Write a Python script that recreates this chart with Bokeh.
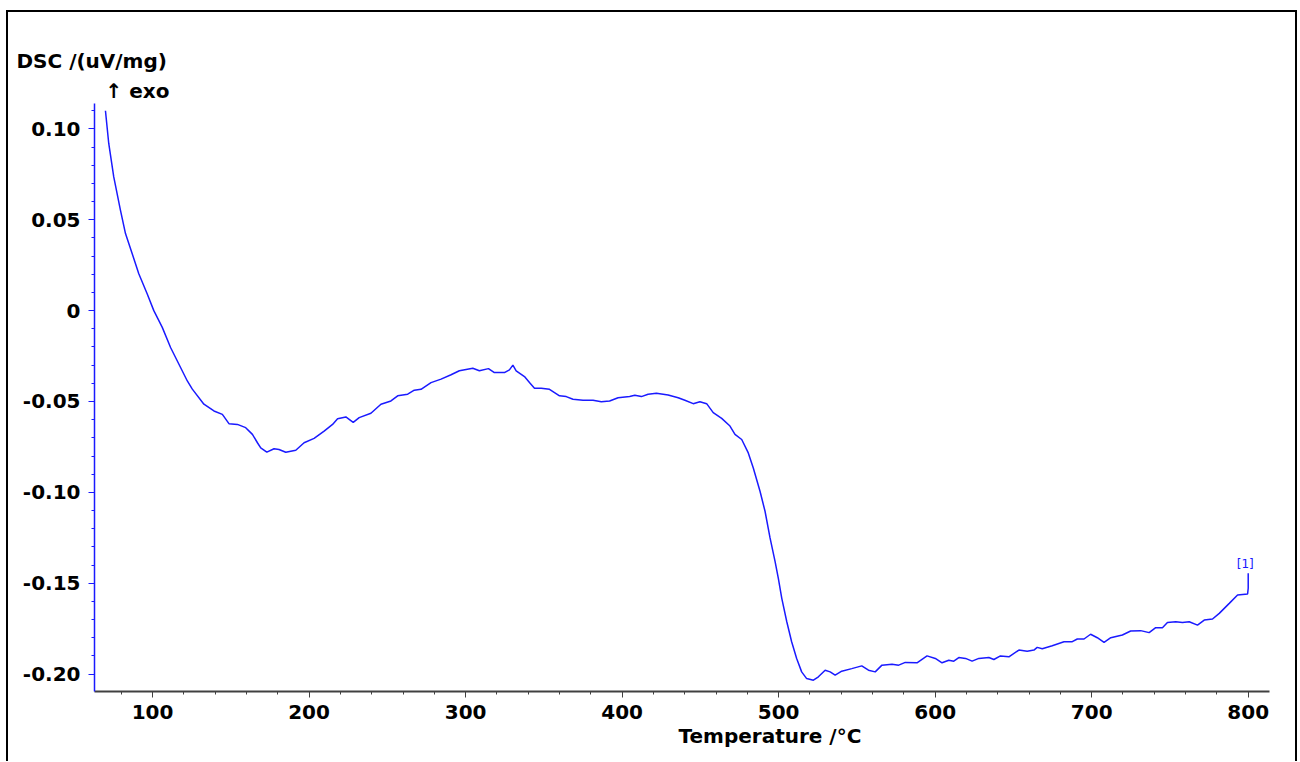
from bokeh.plotting import figure
from bokeh.models import Range1d, SingleIntervalTicker, CustomJSTickFormatter, Label, Title
from bokeh.embed import file_html
from bokeh.resources import INLINE

# DSC curve (temperature in °C, DSC in uV/mg)
temp = [69.9, 72.0, 75.2, 79.5, 82.7, 87.0, 91.2, 96.6, 100.8, 106.2, 111.5,
        122.2, 125.4, 132.8, 139.2, 144.6, 148.8, 154.2, 159.5, 163.8, 167.0,
        169.1, 173.0, 177.6, 180.8, 185.1, 191.5, 196.8, 203.2, 209.6, 215.0,
        218.2, 223.5, 225.6, 228.2, 232.0, 239.5, 245.9, 252.3, 256.6, 263.0,
        267.2, 271.5, 277.9, 284.3, 290.7, 296.0, 304.6, 308.8, 314.6, 318.4,
        324.8, 328.0, 330.2, 332.3, 337.6, 340.8, 344.0, 348.3, 353.6, 360.0,
        364.3, 368.6, 375.0, 381.4, 386.7, 392.0, 397.4, 404.8, 408.1, 412.3,
        416.6, 421.9, 429.4, 435.8, 440.1, 445.4, 449.7, 454.0, 458.2, 463.6,
        468.9, 472.1, 476.4, 480.6, 483.8, 488.1, 491.3, 494.5, 497.7, 499.8,
        502.0, 505.2, 508.3, 511.5, 514.7, 517.9, 522.2, 525.4, 529.7, 532.9,
        536.1, 540.3, 546.7, 553.1, 557.4, 561.7, 566.0, 572.4, 576.7, 580.9,
        588.4, 594.8, 600.1, 604.4, 608.7, 611.9, 615.1, 619.4, 623.6, 627.9,
        634.3, 637.5, 641.7, 647.1, 653.5, 658.8, 663.1, 665.2, 668.4, 674.8,
        682.3, 687.6, 690.8, 695.1, 699.3, 703.6, 707.9, 712.2, 719.6, 724.9,
        731.3, 736.7, 740.9, 745.2, 748.4, 753.7, 758.0, 762.3, 767.6, 771.9,
        777.2, 781.5, 787.9, 793.2, 799.6, 800.0, 800.0]
dsc = [0.1100, 0.0920, 0.0736, 0.0552, 0.0424, 0.0313, 0.0203, 0.0092, 0.0000, -0.0092, -0.0203,
       -0.0387, -0.0432, -0.0515, -0.0552, -0.0571, -0.0622, -0.0626, -0.0644, -0.0681, -0.0727,
       -0.0755, -0.0779, -0.0760, -0.0764, -0.0779, -0.0768, -0.0727, -0.0703, -0.0663, -0.0626,
       -0.0595, -0.0585, -0.0598, -0.0615, -0.0589, -0.0565, -0.0515, -0.0497, -0.0469, -0.0460,
       -0.0438, -0.0433, -0.0396, -0.0377, -0.0353, -0.0331, -0.0317, -0.0331, -0.0319, -0.0341,
       -0.0341, -0.0326, -0.0300, -0.0331, -0.0363, -0.0396, -0.0427, -0.0427, -0.0433, -0.0469,
       -0.0473, -0.0488, -0.0493, -0.0493, -0.0501, -0.0497, -0.0479, -0.0473, -0.0466, -0.0473,
       -0.0460, -0.0455, -0.0464, -0.0479, -0.0493, -0.0512, -0.0501, -0.0512, -0.0561, -0.0593,
       -0.0635, -0.0681, -0.0709, -0.0783, -0.0866, -0.0994, -0.1104, -0.1251, -0.1380, -0.1473,
       -0.1583, -0.1712, -0.1822, -0.1914, -0.1988, -0.2025, -0.2034, -0.2015, -0.1979, -0.1988,
       -0.2006, -0.1984, -0.1970, -0.1955, -0.1979, -0.1988, -0.1951, -0.1946, -0.1951, -0.1936,
       -0.1938, -0.1900, -0.1914, -0.1938, -0.1924, -0.1929, -0.1909, -0.1914, -0.1929, -0.1914,
       -0.1909, -0.1920, -0.1900, -0.1905, -0.1868, -0.1874, -0.1868, -0.1853, -0.1861, -0.1844,
       -0.1822, -0.1822, -0.1807, -0.1807, -0.1781, -0.1800, -0.1825, -0.1800, -0.1785, -0.1763,
       -0.1761, -0.1772, -0.1745, -0.1745, -0.1716, -0.1712, -0.1716, -0.1712, -0.1731, -0.1703,
       -0.1697, -0.1666, -0.1611, -0.1565, -0.1559, -0.1528, -0.1445]

x_label = "Temperature /°C"
y_label = "DSC /(uV/mg)"
exo_label = "↑ exo"
curve_tag = "[1]"

FONT = "DejaVu Sans"
BLUE = "#1a1aff"

p = figure(width=1287, height=749, output_backend="svg", toolbar_location=None,
           title_location=None,
           x_range=Range1d(62.9, 813.6), y_range=Range1d(-0.2096, 0.114),
           min_border_left=86, min_border_right=30, min_border_top=91, min_border_bottom=72,
           background_fill_color="white", border_fill_color="white",
           styles={"border-top": "2px solid black", "border-left": "2px solid black",
                   "border-right": "2px solid black", "margin-left": "6px",
                   "margin-top": "10px", "box-sizing": "content-box"})
p.outline_line_color = None
p.grid.visible = False

p.line(temp, dsc, line_color=BLUE, line_width=1.5)

# x axis
xa = p.xaxis[0]
xa.ticker = SingleIntervalTicker(interval=100, num_minor_ticks=5)
xa.axis_line_color = "#404040"
xa.axis_line_width = 2
xa.major_tick_line_color = "#404040"
xa.minor_tick_line_color = "#404040"
xa.major_tick_out = 6
xa.major_tick_in = 0
xa.minor_tick_out = 3
xa.minor_tick_in = 0
xa.major_label_standoff = 7
xa.major_label_text_font = FONT
xa.major_label_text_font_style = "bold"
xa.major_label_text_font_size = "20px"
xa.major_label_text_color = "black"

# y axis
ya = p.yaxis[0]
ya.ticker = SingleIntervalTicker(interval=0.05, num_minor_ticks=5)
ya.formatter = CustomJSTickFormatter(code="return Math.abs(tick) < 1e-9 ? '0' : tick.toFixed(2);")
ya.axis_line_color = BLUE
ya.axis_line_width = 1.5
ya.major_tick_line_color = BLUE
ya.minor_tick_line_color = BLUE
ya.major_tick_out = 6
ya.major_tick_in = 0
ya.minor_tick_out = 3
ya.minor_tick_in = 0
ya.major_label_standoff = 8
ya.major_label_text_font = FONT
ya.major_label_text_font_style = "bold"
ya.major_label_text_font_size = "20px"
ya.major_label_text_color = "black"

# titles above the frame (first added sits closest to the frame)
p.add_layout(Title(text=exo_label, align="left", offset=11, standoff=2,
                   text_font=FONT, text_font_style="bold", text_font_size="20px",
                   text_color="black"), "above")
p.add_layout(Title(text=y_label, align="left", offset=-78, standoff=5,
                   text_font=FONT, text_font_style="bold", text_font_size="20px",
                   text_color="black"), "above")
# x label below the axis, shifted right like the reference
p.add_layout(Title(text=x_label, align="left", offset=584, standoff=0,
                   text_font=FONT, text_font_style="bold", text_font_size="20px",
                   text_color="black"), "below")

p.add_layout(Label(x=800, y=-0.1397, x_offset=-3, text=curve_tag,
                   text_font=FONT, text_font_size="12px",
                   text_align="center", text_baseline="middle", text_color=BLUE))

open("out.html", "w").write(file_html(p, INLINE))
